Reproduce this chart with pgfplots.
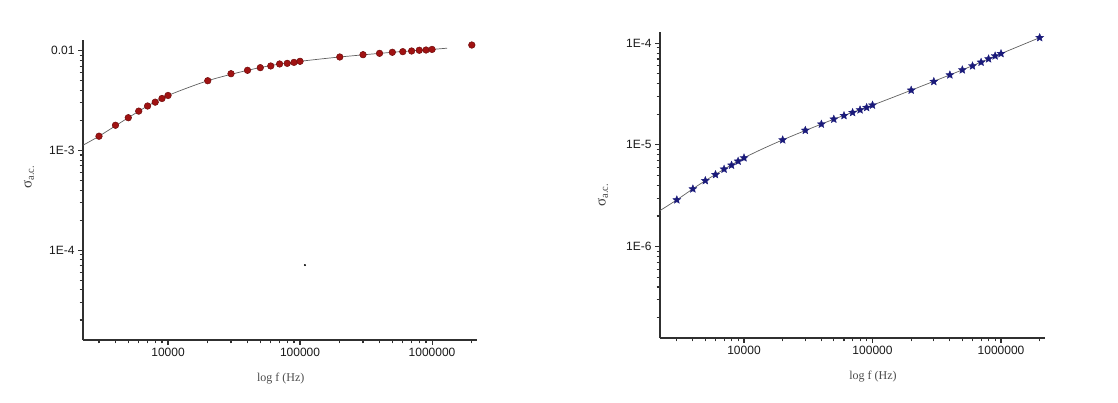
\documentclass[border=0pt]{standalone}
\usepackage{fontspec}
\setmainfont{Liberation Serif}
\newfontfamily\arial{Liberation Sans}
\usepackage{pgfplots}
\pgfplotsset{compat=1.18}
\definecolor{dotred}{HTML}{A01212}
\definecolor{starblue}{HTML}{1A1A7A}
\definecolor{axgray}{HTML}{303030}
\definecolor{fitgray}{HTML}{606060}
\pgfdeclareplotmark{fstar}{%
  \pgfpathmoveto{\pgfpointpolar{90}{\pgfplotmarksize}}%
  \pgfpathlineto{\pgfpointpolar{126}{0.45\pgfplotmarksize}}%
  \pgfpathlineto{\pgfpointpolar{162}{\pgfplotmarksize}}%
  \pgfpathlineto{\pgfpointpolar{198}{0.45\pgfplotmarksize}}%
  \pgfpathlineto{\pgfpointpolar{234}{\pgfplotmarksize}}%
  \pgfpathlineto{\pgfpointpolar{270}{0.45\pgfplotmarksize}}%
  \pgfpathlineto{\pgfpointpolar{306}{\pgfplotmarksize}}%
  \pgfpathlineto{\pgfpointpolar{342}{0.45\pgfplotmarksize}}%
  \pgfpathlineto{\pgfpointpolar{18}{\pgfplotmarksize}}%
  \pgfpathlineto{\pgfpointpolar{54}{0.45\pgfplotmarksize}}%
  \pgfpathclose
  \pgfusepathqfillstroke
}
\pgfplotsset{myax/.style={
  scale only axis,
  axis lines=left, axis line style={-, axgray, line width=1.3pt},
  tick align=outside, major tick length=5pt, minor tick length=3.5pt,
  major tick style={axgray, line width=1.1pt},
  minor tick style={axgray, line width=1.1pt},
  xtick={1e4,1e5,1e6}, xticklabels={10000,100000,1000000},
  minor xtick={3000,4000,5000,6000,7000,8000,9000,20000,30000,40000,50000,60000,70000,80000,90000,200000,300000,400000,500000,600000,700000,800000,900000,2000000},
  tick label style={font=\arial\fontsize{12}{13}\selectfont, text=black!90},
  xlabel={log f (Hz)},
  ylabel={σ\textsubscript{a.c.}},
}}
\begin{document}
\begin{tikzpicture}
\useasboundingbox (0,0) rectangle (1118pt,403pt);
\begin{loglogaxis}[myax,
  at={(83pt,63pt)}, anchor=south west, width=394pt, height=300pt,
  xmin=2270, xmax=2.19e6, ymin=1.26e-5, ymax=1.28e-2,
  ytick={1e-4,1e-3,1e-2}, yticklabels={1E-4,1E-3,0.01},
  minor ytick={2e-5,3e-5,4e-5,5e-5,6e-5,7e-5,8e-5,9e-5,2e-4,3e-4,4e-4,5e-4,6e-4,7e-4,8e-4,9e-4,2e-3,3e-3,4e-3,5e-3,6e-3,7e-3,8e-3,9e-3},
  every axis x label/.style={at={(axis description cs:0.502,-0.127)}, anchor=center, font=\fontsize{12}{13}\selectfont, text=black!70},
  every axis y label/.style={at={(axis description cs:-0.137,0.543)}, anchor=center, rotate=90, font=\fontsize{15}{16}\selectfont, text=black!75},
]
\addplot[fitgray, line width=0.7pt, smooth] coordinates {
(2270,1.13e-3) (3000,1.39e-3) (5000,2.13e-3) (7000,2.79e-3) (10000,3.56e-3)
(20000,5.0e-3) (40000,6.36e-3) (70000,7.36e-3) (100000,7.83e-3) (200000,8.65e-3)
(500000,9.64e-3) (1000000,1.03e-2) (1300000,1.06e-2)};
\addplot[only marks, mark=*, mark size=3.3pt, mark options={fill=dotred, draw=dotred!70!black, line width=0.5pt}] coordinates {
(3000,1.39e-3) (4000,1.79e-3) (5000,2.13e-3) (6000,2.48e-3) (7000,2.79e-3)
(8000,3.05e-3) (9000,3.32e-3) (10000,3.56e-3) (20000,5.0e-3) (30000,5.88e-3)
(40000,6.36e-3) (50000,6.76e-3) (60000,7.03e-3) (70000,7.36e-3) (80000,7.47e-3)
(90000,7.64e-3) (100000,7.83e-3) (200000,8.65e-3) (300000,9.12e-3) (400000,9.41e-3)
(500000,9.64e-3) (600000,9.78e-3) (700000,9.93e-3) (800000,1.01e-2) (900000,1.016e-2)
(1000000,1.03e-2) (2000000,1.14e-2)};
\addplot[only marks, mark=*, mark size=0.8pt, black] coordinates {(109000,7.1e-5)};
\end{loglogaxis}
\begin{loglogaxis}[myax,
  at={(660pt,65pt)}, anchor=south west, width=385pt, height=306pt,
  xmin=2220, xmax=2.2e6, ymin=1.26e-7, ymax=1.29e-4,
  ytick={1e-6,1e-5,1e-4}, yticklabels={1E-6,1E-5,1E-4},
  minor ytick={2e-7,3e-7,4e-7,5e-7,6e-7,7e-7,8e-7,9e-7,2e-6,3e-6,4e-6,5e-6,6e-6,7e-6,8e-6,9e-6,2e-5,3e-5,4e-5,5e-5,6e-5,7e-5,8e-5,9e-5},
  every axis x label/.style={at={(axis description cs:0.553,-0.127)}, anchor=center, font=\fontsize{12}{13}\selectfont, text=black!70},
  every axis y label/.style={at={(axis description cs:-0.148,0.467)}, anchor=center, rotate=90, font=\fontsize{15}{16}\selectfont, text=black!75},
]
\addplot[fitgray, line width=0.7pt, smooth] coordinates {
(2220,2.26e-6) (3000,2.88e-6) (5000,4.45e-6) (10000,7.45e-6) (20000,1.12e-5)
(50000,1.79e-5) (100000,2.46e-5) (200000,3.45e-5) (500000,5.47e-5) (1000000,7.9e-5)
(2000000,1.135e-4)};
\addplot[only marks, mark=fstar, mark size=4.2pt, mark options={fill=starblue, draw=starblue, line width=0.3pt}] coordinates {
(3000,2.88e-6) (4000,3.69e-6) (5000,4.45e-6) (6000,5.1e-6) (7000,5.77e-6)
(8000,6.31e-6) (9000,6.91e-6) (10000,7.45e-6) (20000,1.12e-5) (30000,1.39e-5)
(40000,1.6e-5) (50000,1.79e-5) (60000,1.94e-5) (70000,2.08e-5) (80000,2.21e-5)
(90000,2.33e-5) (100000,2.46e-5) (200000,3.45e-5) (300000,4.2e-5) (400000,4.88e-5)
(500000,5.47e-5) (600000,5.98e-5) (700000,6.5e-5) (800000,7.02e-5) (900000,7.5e-5)
(1000000,7.9e-5) (2000000,1.135e-4)};
\end{loglogaxis}
\end{tikzpicture}
\end{document}
